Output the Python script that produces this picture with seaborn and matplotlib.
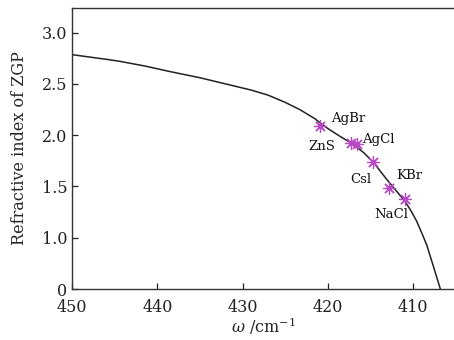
import numpy as np
import pandas as pd
import matplotlib
matplotlib.use("Agg")
import matplotlib.pyplot as plt
import seaborn as sns

# curve (y in axis units, bottom of axis is labelled "0")
omega = [450.0, 446.0, 444.4, 441.5, 438.5, 435.0, 432.0, 429.0, 427.0, 425.0,
         423.3, 421.5, 420.9, 420.0, 418.6, 417.0, 415.8, 414.7, 413.1, 412.0,
         411.0, 410.3, 409.6, 409.0, 408.4, 407.65, 406.95, 406.8]
n_zgp = [2.785, 2.74, 2.72, 2.675, 2.62, 2.56, 2.50, 2.44, 2.39, 2.32,
         2.25, 2.16, 2.12, 2.065, 1.99, 1.91, 1.83, 1.74, 1.57, 1.46,
         1.36, 1.27, 1.165, 1.05, 0.93, 0.73, 0.54, 0.50]

# materials
names = ["AgBr", "ZnS", "AgCl", "Csl", "KBr", "NaCl"]
w_mat = [420.9, 417.3, 416.6, 414.7, 412.8, 410.9]
n_mat = [2.09, 1.92, 1.91, 1.735, 1.485, 1.38]
# label offsets in pixels
offs = [(28, 7), (-29, -3), (22, 5), (-12, -17), (20, 12), (-14, -16)]

yticks = [0.5, 1.0, 1.5, 2.0, 2.5, 3.0]
ylabels = ["0", "1.0", "1.5", "2.0", "2.5", "3.0"]
xticks = [450, 440, 430, 420, 410]

sns.set_style("ticks")
plt.rcParams["font.family"] = ["DejaVu Serif"]
plt.rcParams["mathtext.fontset"] = "dejavuserif"

curve = pd.DataFrame({"w": omega, "n": n_zgp})
mats = pd.DataFrame({"w": w_mat, "n": n_mat, "name": names})

fig = plt.figure(figsize=(4.54, 3.4), dpi=100)
ax = fig.add_axes([72/454, 1-289/340, 1-72/454, (289-8)/340])

sns.lineplot(data=curve, x="w", y="n", sort=False, color="#222222", lw=1.1, ax=ax)
ax.scatter(mats["w"], mats["n"], marker=(8, 2, 0), s=75, color="#b848c4",
           linewidths=0.9, zorder=3)

for nm, x, y, (dx, dy) in zip(names, w_mat, n_mat, offs):
    ax.annotate(nm, (x, y), xytext=(dx, dy), textcoords="offset pixels",
                ha="center", va="center", fontsize=9.5, color="#111111")

ax.set_xlim(450, 405.2)
ax.set_ylim(0.5, 3.24)
ax.set_xticks(xticks)
ax.set_yticks(yticks)
ax.set_yticklabels(ylabels)
ax.tick_params(direction="in", length=4, width=0.9, labelsize=11.5, colors="#222222")
ax.tick_params(axis="x", pad=7)

for s in ["left", "bottom", "top"]:
    ax.spines[s].set_linewidth(1.0)
    ax.spines[s].set_color("#333333")
ax.spines["right"].set_visible(False)

ax.set_xlabel(r"$\omega$ /cm$^{-1}$", fontsize=11.5, labelpad=0)
ax.set_ylabel("Refractive index of ZGP", fontsize=11.5, labelpad=10)

fig.savefig("out.png", dpi=100)
